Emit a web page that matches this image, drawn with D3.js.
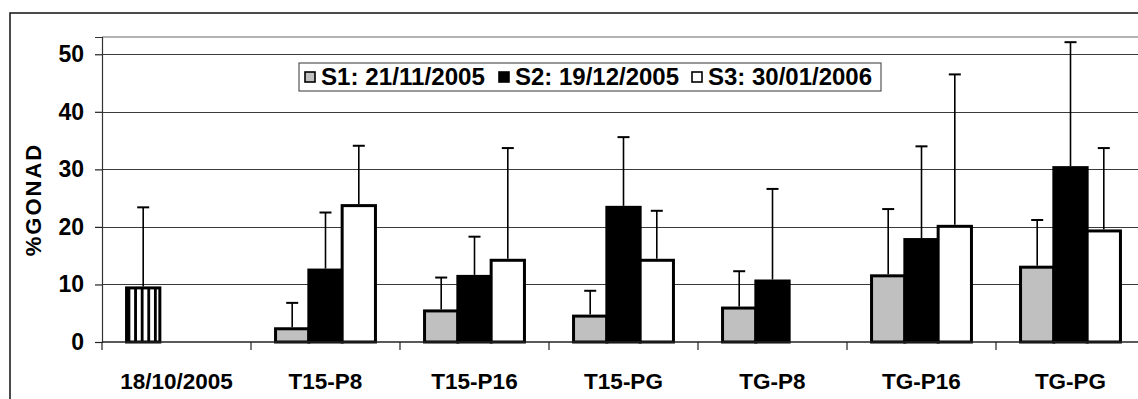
<!DOCTYPE html>
<html>
<head>
<meta charset="utf-8">
<script src="https://cdn.jsdelivr.net/npm/d3@7"></script>
<style>
  html, body { margin: 0; padding: 0; background: #fff; }
  svg { display: block; font-family: "Liberation Sans", Arial, sans-serif; font-weight: bold; }
</style>
</head>
<body>
<svg id="chart" width="1138" height="399"></svg>
<script>
// Sampling dates / treatments along the x axis
const categories = ["18/10/2005", "T15-P8", "T15-P16", "T15-PG", "TG-P8", "TG-P16", "TG-PG"];
const seriesNames = ["S1: 21/11/2005", "S2: 19/12/2005", "S3: 30/01/2006"];
const seriesKeys = ["S1", "S2", "S3"];

// Initial sample (18/10/2005): mean and standard deviation
const initialMean = 9.4;
const initialSd = 14.0;

// Mean %GONAD per treatment (null = no sample)
const s1Mean = [null, 2.3, 5.4, 4.5, 5.9, 11.5, 13.0];
const s2Mean = [null, 12.5, 11.4, 23.4, 10.6, 17.8, 30.3];
const s3Mean = [null, 23.7, 14.2, 14.2, null, 20.1, 19.3];

// Standard deviations (upper error bars)
const s1Sd = [null, 4.5, 5.8, 4.4, 6.4, 11.6, 8.2];
const s2Sd = [null, 10.0, 6.9, 12.2, 16.0, 16.2, 21.8];
const s3Sd = [null, 10.4, 19.5, 8.6, null, 26.4, 14.4];

const yTicks = [0, 10, 20, 30, 40, 50];
const seriesFill = ["#c0c0c0", "#000000", "#ffffff"];

const svg = d3.select("#chart");

const plot = { left: 102, top: 37, right: 1145, bottom: 342 };

const x0 = d3.scaleBand().domain(categories).range([plot.left, plot.right]).padding(0);
const x1 = d3.scaleBand().domain(seriesKeys).range([0, x0.bandwidth()])
  .paddingInner(0).paddingOuter(0.737);
const y = d3.scaleLinear().domain([0, 53]).range([plot.bottom, plot.top]);

// Vertical stripe fill for the initial sample
const defs = svg.append("defs");
const pat = defs.append("pattern").attr("id", "vstripes")
  .attr("patternUnits", "userSpaceOnUse").attr("width", 6.6).attr("height", 10)
  .attr("x", x0(categories[0]) + x1("S1") + 1);
pat.append("rect").attr("width", 6.6).attr("height", 10).attr("fill", "#fff");
pat.append("rect").attr("x", 0).attr("width", 2.8).attr("height", 10).attr("fill", "#000");

// Outer chart frame
svg.append("rect").attr("x", 10).attr("y", 13).attr("width", 1200).attr("height", 500)
  .attr("fill", "none").attr("stroke", "#111").attr("stroke-width", 1.5);

// Plot area frame
svg.append("line").attr("x1", plot.left).attr("x2", plot.right)
  .attr("y1", plot.top).attr("y2", plot.top)
  .attr("stroke", "#9a9a9a").attr("stroke-width", 1.5);

// Horizontal gridlines
svg.append("g").selectAll("line").data(yTicks.filter(t => t > 0)).join("line")
  .attr("x1", plot.left).attr("x2", plot.right)
  .attr("y1", d => Math.round(y(d)) + 0.5).attr("y2", d => Math.round(y(d)) + 0.5)
  .attr("stroke", "#3a3a3a").attr("stroke-width", 1);

// Y axis
const yAxis = d3.axisLeft(y).tickValues(yTicks).tickSize(7).tickPadding(11).tickFormat(d3.format("d"));
const gy = svg.append("g").attr("transform", `translate(${plot.left},0)`).call(yAxis);
gy.select(".domain").attr("stroke", "#333").attr("stroke-width", 1.2);
gy.selectAll(".tick line").attr("stroke", "#222").attr("stroke-width", 1.2);
gy.selectAll(".tick text").attr("font-size", 23).attr("font-weight", "bold")
  .attr("fill", "#000").attr("font-family", "'Liberation Sans', Arial, sans-serif");

// Bars for the three sampling dates
const rows = [];
categories.forEach((c, i) => {
  [s1Mean, s2Mean, s3Mean].forEach((arr, k) => {
    const sd = [s1Sd, s2Sd, s3Sd][k][i];
    if (arr[i] !== null) rows.push({ cat: c, key: seriesKeys[k], k, mean: arr[i], sd });
  });
});

const bars = svg.append("g");
bars.selectAll("rect").data(rows).join("rect")
  .attr("x", d => x0(d.cat) + x1(d.key))
  .attr("y", d => y(d.mean))
  .attr("width", x1.bandwidth())
  .attr("height", d => y(0) - y(d.mean))
  .attr("fill", d => seriesFill[d.k])
  .attr("stroke", "#000").attr("stroke-width", 3);

// Initial sample bar
const init = { cat: categories[0], key: "S1", mean: initialMean, sd: initialSd };
bars.append("rect")
  .attr("x", x0(init.cat) + x1(init.key))
  .attr("y", y(init.mean))
  .attr("width", x1.bandwidth())
  .attr("height", y(0) - y(init.mean))
  .attr("fill", "url(#vstripes)")
  .attr("stroke", "#000").attr("stroke-width", 3);

// Upper error bars
const errs = rows.concat([init]);
const eg = svg.append("g").attr("stroke", "#000").attr("stroke-width", 1.6);
errs.forEach(d => {
  const cx = x0(d.cat) + x1(d.key) + x1.bandwidth() / 2;
  eg.append("line").attr("x1", cx).attr("x2", cx).attr("y1", y(d.mean) - 1.5).attr("y2", y(d.mean + d.sd));
  eg.append("line").attr("x1", cx - 6).attr("x2", cx + 6).attr("y1", y(d.mean + d.sd)).attr("y2", y(d.mean + d.sd))
    .attr("stroke-width", 2);
});

// Category axis (baseline with ticks between categories)
svg.append("line").attr("x1", plot.left).attr("x2", plot.right)
  .attr("y1", y(0)).attr("y2", y(0)).attr("stroke", "#222").attr("stroke-width", 1.5);
svg.append("g").selectAll("line").data(categories).join("line")
  .attr("x1", d => x0(d)).attr("x2", d => x0(d))
  .attr("y1", y(0)).attr("y2", y(0) + 8)
  .attr("stroke", "#222").attr("stroke-width", 1.2);
svg.append("g").selectAll("text").data(categories).join("text")
  .attr("x", d => x0(d) + x0.bandwidth() / 2)
  .attr("y", 389)
  .attr("text-anchor", "middle")
  .attr("font-size", 22.5)
  .text(d => d);

// Y axis title
svg.append("text")
  .attr("transform", `translate(41,${(plot.top + plot.bottom) / 2 + 10}) rotate(-90)`)
  .attr("text-anchor", "middle")
  .attr("font-size", 22)
  .attr("letter-spacing", 2)
  .text("%GONAD");

// Legend
const legend = svg.append("g");
legend.append("rect").attr("x", 299).attr("y", 63).attr("width", 582).attr("height", 28)
  .attr("fill", "#fff").attr("stroke", "#555").attr("stroke-width", 1.2);
const legX = [305, 499, 692];
seriesNames.forEach((name, k) => {
  legend.append("rect").attr("x", legX[k]).attr("y", 72).attr("width", 10).attr("height", 10)
    .attr("fill", seriesFill[k]).attr("stroke", "#000").attr("stroke-width", 1.6);
  legend.append("text").attr("x", legX[k] + 16).attr("y", 85)
    .attr("font-size", 23).attr("textLength", 164).attr("lengthAdjust", "spacingAndGlyphs")
    .text(name);
});
</script>
</body>
</html>
